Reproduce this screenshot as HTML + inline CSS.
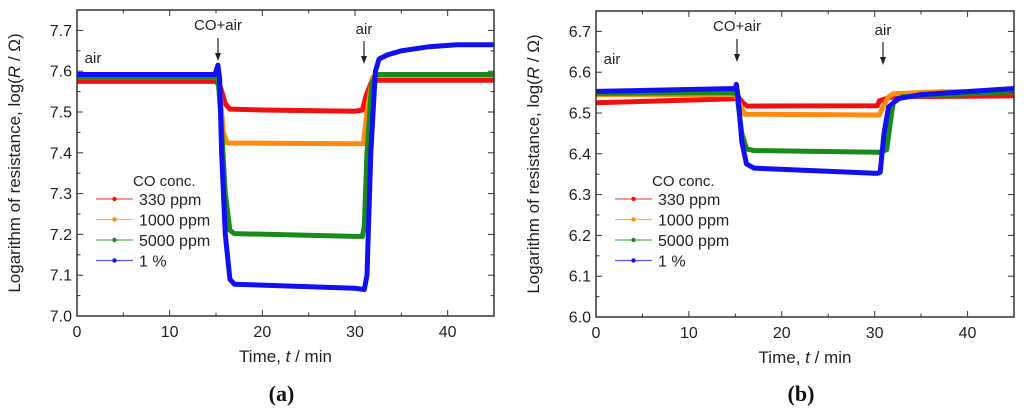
<!DOCTYPE html>
<html><head><meta charset="utf-8"><style>
body{margin:0;background:#fff;width:1024px;height:414px;overflow:hidden}
svg{font-family:"Liberation Sans",sans-serif}
</style></head><body>
<svg id="s" width="1024" height="414" xmlns="http://www.w3.org/2000/svg"></svg>
<script>
const seriesNames=["330 ppm","1000 ppm","5000 ppm","1 %"];
const seriesColors=["#f01010","#ff8c10","#1a8a1a","#1010f0"];
// Panel a data
const aRedT=[0,15,15.5,16,16.5,20,30,30.8,31.2,31.8,32,45];
const aRedV=[7.575,7.575,7.56,7.52,7.507,7.505,7.502,7.505,7.54,7.575,7.578,7.578];
const aOrT=[0,15,15.3,15.8,16.2,30,30.9,31.3,31.9,32.5,45];
const aOrV=[7.585,7.585,7.58,7.45,7.424,7.422,7.422,7.5,7.585,7.59,7.59];
const aGrT=[0,15.2,15.5,16,16.5,17,30,30.8,31,31.3,31.8,32.3,45];
const aGrV=[7.585,7.585,7.5,7.3,7.21,7.202,7.195,7.195,7.22,7.4,7.57,7.592,7.592];
const aBlT=[0,14.9,15.2,15.4,15.6,16,16.5,17,30,31,31.3,31.7,32.2,32.6,33.5,35,38,41,45];
const aBlV=[7.592,7.592,7.615,7.58,7.4,7.2,7.09,7.078,7.068,7.065,7.1,7.4,7.6,7.63,7.64,7.65,7.66,7.665,7.665];
// Panel b data
const bRedT=[0,15,15.3,15.8,16.3,30.3,30.5,31.2,32,45];
const bRedV=[6.525,6.535,6.54,6.525,6.517,6.518,6.53,6.535,6.54,6.542];
const bOrT=[0,15,15.5,16,30.5,31,31.5,32,37,45];
const bOrV=[6.545,6.545,6.52,6.497,6.495,6.52,6.54,6.547,6.552,6.552];
const bGrT=[0,15,15.2,15.7,16.2,17,30.5,31.3,31.7,32,33,45];
const bGrV=[6.548,6.55,6.54,6.45,6.412,6.408,6.404,6.41,6.48,6.525,6.54,6.552];
const bBlT=[0,15,15.1,15.3,15.7,16.2,17,30.3,30.6,31,31.5,32.5,35,45];
const bBlV=[6.553,6.56,6.57,6.54,6.43,6.375,6.365,6.352,6.355,6.45,6.515,6.535,6.545,6.56];
const xTicks=[0,10,20,30,40];
const aYTicks=["7.0","7.1","7.2","7.3","7.4","7.5","7.6","7.7"];
const bYTicks=["6.0","6.1","6.2","6.3","6.4","6.5","6.6","6.7"];

const NS="http://www.w3.org/2000/svg";
const S=document.getElementById('s');
function mk(tag,at,parent,txt){const e=document.createElementNS(NS,tag);for(const k in at)e.setAttribute(k,at[k]);if(txt!=null)e.textContent=txt;(parent||S).appendChild(e);return e;}

function panel(id,L,R,T,B,yMin,yMax,yTicks,series,ann,cap){
  const g=mk('g',{});
  
  
  const xs=t=>L+(t-0)/45*(R-L);
  const ys=v=>B-(v-yMin)/(yMax-yMin)*(B-T);
  series.forEach((s,i)=>{
    const pts=s.t.map((t,j)=>xs(t).toFixed(1)+','+ys(s.v[j]).toFixed(1)).join(' ');
    const p=mk('polyline',{points:pts,fill:'none',stroke:seriesColors[i],'stroke-width':5,'stroke-linejoin':'round'},g);
    
    
  });
  const fr=mk('rect',{x:L,y:T,width:R-L,height:B-T,fill:'none',stroke:'#333','stroke-width':1.5},g);
  
  
  for(let t=0;t<=45;t+=5){
    const x=xs(t),len=(t%10===0)?6:3.5;
    mk('line',{x1:x,y1:B,x2:x,y2:B-len,stroke:'#333'},g);
    mk('line',{x1:x,y1:T,x2:x,y2:T+len,stroke:'#333'},g);
  }
  xTicks.forEach(t=>{
    const e=mk('text',{x:xs(t),y:B+21,'font-size':16,'text-anchor':'middle',fill:'#222'},g,t);
    
    
  });
  for(let k=0;k<=15;k++){
    const v=yMin+k*0.05;if(v>yMax+1e-9)break;
    const y=ys(v),len=(k%2===0)?6:3.5;
    mk('line',{x1:L,y1:y,x2:L+len,y2:y,stroke:'#333'},g);
    mk('line',{x1:R,y1:y,x2:R-len,y2:y,stroke:'#333'},g);
  }
  yTicks.forEach(l=>{
    const e=mk('text',{x:L-5,y:ys(parseFloat(l))+5.5,'font-size':16,'text-anchor':'end',fill:'#222'},g,l);
    
    
  });
  const xt=mk('text',{x:(L+R)/2,y:B+46,'font-size':17,'text-anchor':'middle',fill:'#222'},g);
  
  
  xt.innerHTML='Time, <tspan font-style="italic">t</tspan> / min';
  const yt=mk('text',{transform:`translate(${L-57},${(T+B)/2}) rotate(-90)`,'font-size':17,'text-anchor':'middle',fill:'#222'},g);
  
  
  yt.innerHTML='Logarithm of resistance, log(<tspan font-style="italic">R</tspan> / Ω)';
  ann.forEach(a=>{
    const e=mk('text',{x:a.x,y:a.y,'font-size':15,'text-anchor':'middle',fill:'#222'},g,a.txt);
    
    
    if(a.ay){
      mk('line',{x1:a.x,y1:a.ay,x2:a.x,y2:a.ay+20,stroke:'#222','stroke-width':1.2},g);
      mk('path',{d:`M${a.x-3},${a.ay+15} L${a.x},${a.ay+23} L${a.x+3},${a.ay+15}Z`,fill:'#222'},g);
    }
  });
  const lg=mk('g',{},g);
  
  
  const lx=L+19;
  mk('text',{x:lx+37,y:186,'font-size':15,fill:'#222'},lg,'CO conc.');
  seriesNames.forEach((n,i)=>{
    const y=199+i*20.5;
    const e=mk('g',{},lg);
    
    
    mk('line',{x1:lx,y1:y,x2:lx+37,y2:y,stroke:seriesColors[i],'stroke-width':1.2,opacity:0.7},e);
    mk('circle',{cx:lx+18.5,cy:y,r:2.2,fill:seriesColors[i]},e);
    mk('text',{x:lx+43,y:y+6,'font-size':16,fill:'#222'},e,n);
  });
  const c=mk('text',{x:(L+R)/2-4,y:401,'font-size':22,'font-weight':'bold','text-anchor':'middle','font-family':'Liberation Serif, serif',fill:'#111'},g);
  
  
  c.textContent='('+cap+')';
}
panel('panel-a',77,494,10,316,7.0,7.75,aYTicks,
 [{t:aRedT,v:aRedV},{t:aOrT,v:aOrV},{t:aGrT,v:aGrV},{t:aBlT,v:aBlV}],
 [{x:218,y:30,txt:'CO+air',ay:38},{x:364,y:34,txt:'air',ay:41},{x:93,y:63,txt:'air'}],'a');
panel('panel-b',596,1014,11,317,6.0,6.75,bYTicks,
 [{t:bRedT,v:bRedV},{t:bOrT,v:bOrV},{t:bGrT,v:bGrV},{t:bBlT,v:bBlV}],
 [{x:737,y:31,txt:'CO+air',ay:39},{x:883,y:35,txt:'air',ay:42},{x:612,y:64,txt:'air'}],'b');
</script>
</body></html>
